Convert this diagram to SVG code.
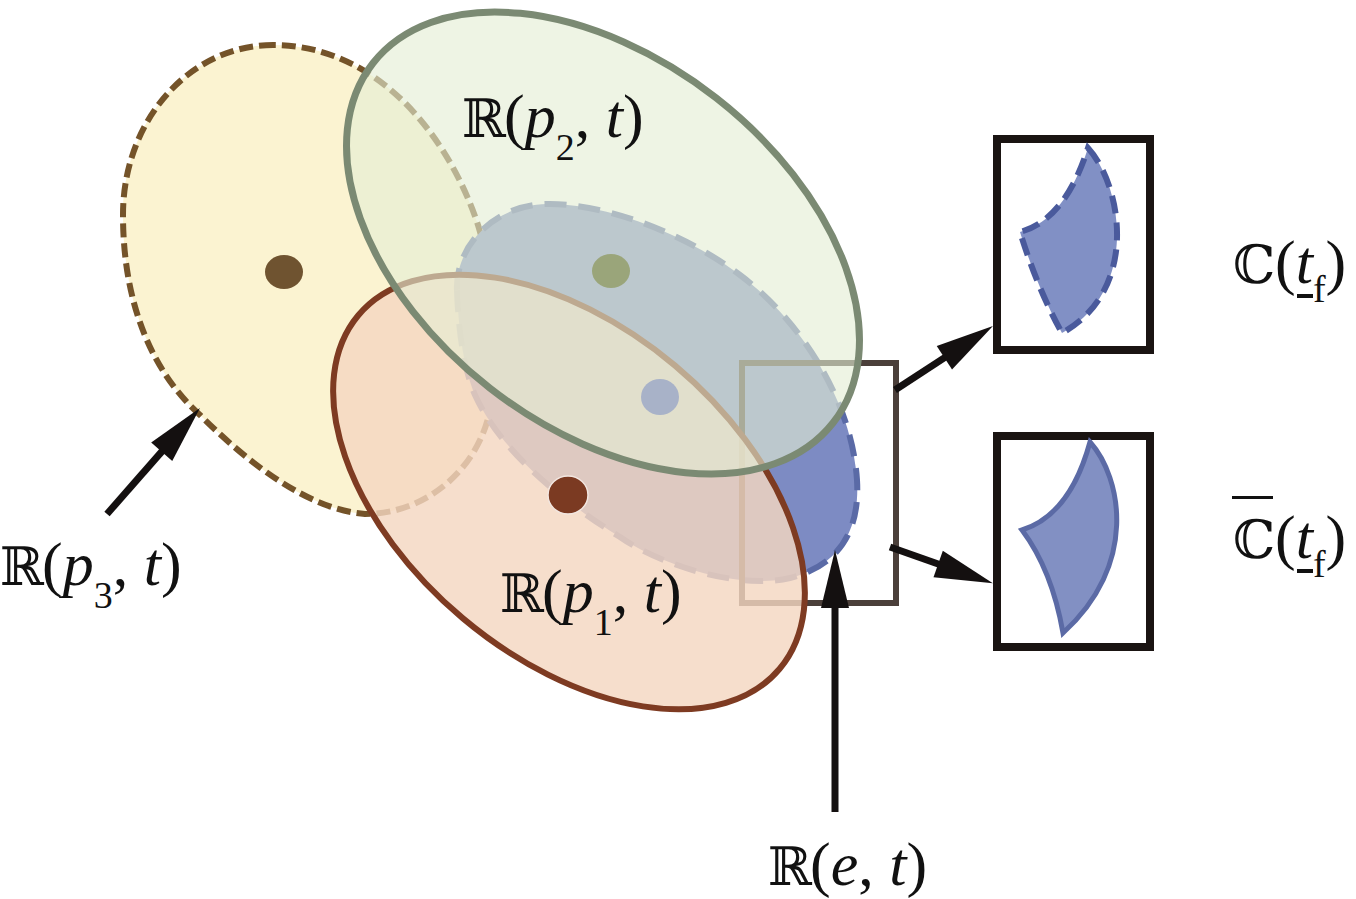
<svg xmlns="http://www.w3.org/2000/svg" width="1356" height="899" viewBox="0 0 1356 899">
<style>
.lbl{font-family:"Liberation Serif","Times New Roman",serif;font-size:62px;fill:#111}
.bb{font-family:"DejaVu Serif","Liberation Serif",serif;font-size:53px}
.i{font-style:italic}
.sub{font-size:38px}
.arrow{stroke:#141010;stroke-width:7;fill:none;marker-end:url(#ah)}
.box{fill:#fff;stroke:#1a1412;stroke-width:8}
</style>
<defs>
<marker id="ah" markerUnits="userSpaceOnUse" viewBox="-2 -16 62 32" refX="3" refY="0" markerWidth="62" markerHeight="32" orient="auto">
<path d="M0,-14 L58,0 L0,14 Z" fill="#141010"/>
</marker>
</defs>
<rect width="1356" height="899" fill="#fff"/>

<g id="region-p3">
<path d="M273,45 C190,45 123,120 123,215 C123,300 150,370 200,415 C250,465 310,510 365,514 C425,514 478,470 490,410 C500,350 495,280 478,225 C450,140 380,45 273,45 Z" fill="#fbf3d1" stroke="#745329" stroke-width="6" stroke-dasharray="14 6"/>
</g>

<g id="region-e">
<path d="M457,290 C455,250 490,205 547,204 C600,203 680,230 740,275 C800,320 852,400 857,480 C860,530 840,565 790,578 C740,590 660,565 620,537 C560,500 500,450 475,395 C462,365 458,320 457,290 Z" fill="#7d8bc3" stroke="#5a6aa6" stroke-width="6" stroke-dasharray="22 12"/>
</g>

<g id="zoom-window">
<rect x="742" y="363" width="154" height="240" fill="none" stroke="#4b3f3a" stroke-width="6"/>
</g>

<g id="region-p1">
<ellipse cx="569" cy="492" rx="275" ry="165" transform="rotate(40 569 492)" fill="#f4d7c1" fill-opacity="0.82" stroke="#7e3b22" stroke-width="6"/>
</g>

<g id="region-p2">
<ellipse cx="603" cy="243" rx="292" ry="184" transform="rotate(38 603 243)" fill="#e3edd3" fill-opacity="0.62" stroke="#7b8a73" stroke-width="7"/>
</g>

<g id="centers">
<ellipse cx="284" cy="272" rx="19" ry="17" fill="#6f5330"/>
<ellipse cx="611" cy="271" rx="19" ry="17" fill="#9aa57a"/>
<ellipse cx="660" cy="397" rx="19" ry="18" fill="#a8b2c8"/>
<ellipse cx="568" cy="495" rx="20" ry="19" fill="#7b3a22" stroke="#f2e6e0" stroke-width="1.5"/>
</g>

<g id="label-p2">
<text class="lbl" x="462" y="137"><tspan class="bb">ℝ</tspan><tspan x="504">(</tspan><tspan class="i">p</tspan><tspan class="sub" dy="23">2</tspan><tspan dy="-23">, </tspan><tspan class="i">t</tspan>)</text>
</g>
<g id="label-p1">
<text class="lbl" x="500" y="612"><tspan class="bb">ℝ</tspan><tspan x="542">(</tspan><tspan class="i">p</tspan><tspan class="sub" dy="23">1</tspan><tspan dy="-23">, </tspan><tspan class="i">t</tspan>)</text>
</g>
<g id="label-p3">
<text class="lbl" x="0" y="585"><tspan class="bb">ℝ</tspan><tspan x="42">(</tspan><tspan class="i">p</tspan><tspan class="sub" dy="23">3</tspan><tspan dy="-23">, </tspan><tspan class="i">t</tspan>)</text>
</g>
<g id="label-e">
<text class="lbl" x="768" y="885"><tspan class="bb">ℝ</tspan><tspan x="810">(</tspan><tspan class="i">e</tspan>, <tspan class="i">t</tspan>)</text>
</g>

<g id="box-C">
<rect class="box" x="997" y="139" width="153" height="211"/>
<path d="M1088,148 C1122,185 1140,290 1062,333 Q1038,290 1020,232 Q1065,220 1088,148 Z" fill="#8190c5" stroke="#4a5a9c" stroke-width="6" stroke-dasharray="18 9"/>
</g>
<g id="box-Cbar">
<rect class="box" x="997" y="436" width="153" height="211"/>
<path d="M1090,442 C1122,478 1138,565 1063,633 Q1052,570 1022,530 Q1070,515 1090,442 Z" fill="#8290c3" stroke="#5b6aa5" stroke-width="5"/>
</g>

<g id="label-C">
<text class="lbl" x="1233" y="283"><tspan class="bb">ℂ</tspan><tspan x="1275">(</tspan><tspan class="i">t</tspan><tspan class="sub" dy="19">f</tspan><tspan dy="-19">)</tspan></text>
<rect x="1297" y="294" width="16" height="4" fill="#111"/>
</g>
<g id="label-Cbar">
<rect x="1232" y="496" width="41" height="3" fill="#111"/>
<text class="lbl" x="1233" y="558"><tspan class="bb">ℂ</tspan><tspan x="1275">(</tspan><tspan class="i">t</tspan><tspan class="sub" dy="19">f</tspan><tspan dy="-19">)</tspan></text>
<rect x="1297" y="569" width="16" height="4" fill="#111"/>
</g>

<g id="connectors">
<line class="arrow" x1="107" y1="514" x2="163.7" y2="449.4"/>
<line class="arrow" x1="835" y1="812" x2="835" y2="605"/>
<line class="arrow" x1="895" y1="390" x2="946.9" y2="356.1"/>
<line class="arrow" x1="890" y1="547" x2="941" y2="565"/>
</g>
</svg>
